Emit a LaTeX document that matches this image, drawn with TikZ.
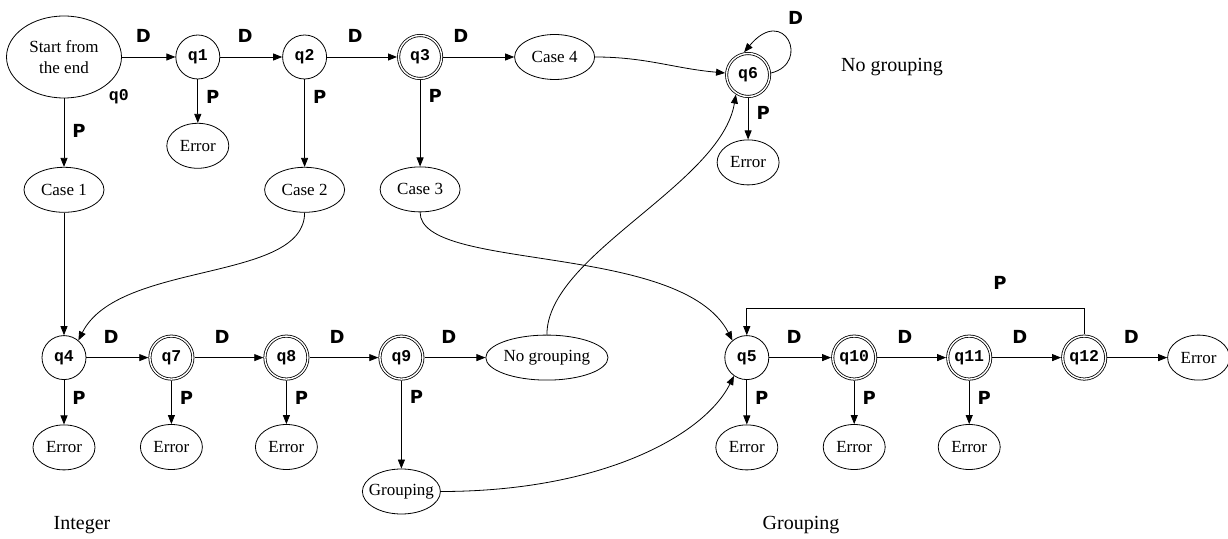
\documentclass[tikz,border=0pt]{standalone}
\usepackage{fontspec}
\setmainfont{Liberation Serif}
\newfontfamily\statefont{Liberation Mono}
\newfontfamily\edgefont{DejaVu Sans}
\usepackage{tikz}
\usetikzlibrary{arrows.meta, positioning, shapes.geometric}

\begin{document}
\begin{tikzpicture}[
    x=1pt, y=1pt,
    every node/.style={font=\fontsize{17}{21}\selectfont},
    qstate/.style={circle, draw=black, fill=white, minimum size=44pt, inner sep=0pt,
                   line width=0.8pt, font=\statefont\bfseries\fontsize{16.5}{16}\selectfont},
    qaccept/.style={qstate, double, double distance=1.4pt, minimum size=43pt, outer sep=1.6pt},
    oval/.style={ellipse, draw=black, fill=white, inner sep=0pt, minimum height=45pt, line width=0.8pt},
    errbox/.style={oval, minimum width=62pt},
    casebox/.style={oval, minimum width=80pt},
    lbl/.style={font=\edgefont\bfseries\fontsize{18}{18}\selectfont, inner sep=0pt},
    dlbl/.style={lbl, above=14pt, pos=0.4},
    plbl/.style={lbl, right=8pt, pos=0.4},
    caption/.style={font=\fontsize{20}{22}\selectfont, inner sep=0pt},
    arr/.style={-{Triangle[length=9pt, width=7pt]}, line width=0.8pt, color=black},
]
\useasboundingbox (0,0) rectangle (1228,538);

% top row
\node[oval, minimum width=115pt, minimum height=82pt, align=center,
      label={[font=\statefont\bfseries\fontsize{16.5}{16}\selectfont]-35:q0}] (q0) at (64,481) {Start from\\the end};
\node[qstate, right=53.5pt of q0] (q1) {q1};
\node[qstate, right=62pt of q1] (q2) {q2};
\node[qaccept, right=70pt of q2] (q3) {q3};
\node[casebox, right=71pt of q3] (c4) {Case 4};
\node[qaccept, right=130pt of c4, yshift=-18pt] (q6) {q6};

\node[casebox, below=68.5pt of q0] (c1) {Case 1};
\node[errbox, below=43.5pt of q1] (e1) {Error};
\node[casebox, below=87.5pt of q2] (c2) {Case 2};
\node[casebox, below=86.4pt of q3] (c3) {Case 3};
\node[errbox, below=41.4pt of q6] (e6) {Error};

% integer part
\node[qstate, below=122.5pt of c1] (q4) {q4};
\node[qaccept, right=61.9pt of q4] (q7) {q7};
\node[qaccept, right=68.8pt of q7] (q8) {q8};
\node[qaccept, right=68.8pt of q8] (q9) {q9};
\node[oval, minimum width=122pt, right=60.9pt of q9] (ng) {No grouping};
\node[oval, minimum width=78pt, below=87.9pt of q9] (grp) {\makebox[0pt]{Grouping}};
\node[errbox, below=44.5pt of q4] (e4) {Error};
\node[errbox, below=43.4pt of q7] (e7) {Error};
\node[errbox, below=43.4pt of q8] (e8) {Error};

% grouping part
\node[qstate, right=116pt of ng] (q5) {q5};
\node[qaccept, right=61.9pt of q5] (q10) {q10};
\node[qaccept, right=68.8pt of q10] (q11) {q11};
\node[qaccept, right=68.8pt of q11] (q12) {q12};
\node[errbox, right=59.9pt of q12] (e12) {Error};
\node[errbox, below=44.5pt of q5] (e5) {Error};
\node[errbox, below=43.4pt of q10] (e10) {Error};
\node[errbox, below=43.4pt of q11] (e11) {Error};

\node[caption] (capng) at (892,471) {No grouping};
\node[caption] (capint) at (82,13) {Integer};
\node[caption] (capgrp) at (801,13) {Grouping};

% top transitions
\draw[arr] (q0) -- node[dlbl] {D} (q1);
\draw[arr] (q1) -- node[dlbl] {D} (q2);
\draw[arr] (q2) -- node[dlbl] {D} (q3);
\draw[arr] (q3) -- node[dlbl, pos=0.25] {D} (c4);
\draw[arr] (c4) to[out=0, in=175] (q6);
\draw[arr] (q6.5) .. controls +(40,10) and +(40,48) .. (q6.100)
    node[lbl, pos=0.5, above=16pt, xshift=8pt] {D};

\draw[arr] (q0) -- node[plbl, pos=0.48] {P} (c1);
\draw[arr] (q1) -- node[plbl] {P} (e1);
\draw[arr] (q2) -- node[plbl, pos=0.2] {P} (c2);
\draw[arr] (q3) -- node[plbl, pos=0.18] {P} (c3);
\draw[arr] (q6) -- node[plbl, pos=0.36] {P} (e6);

% cases into the lower rows
\draw[arr] (c1) -- (q4);
\draw[arr] (c2.south) .. controls +(0,-70) and +(40,80) .. (q4.50);
\draw[arr] (c3.south) .. controls +(0,-60) and +(-51,99) .. (q5.130);
\draw[arr] (ng.north) .. controls +(0,80) and +(-15,-90) .. (q6.238);
\draw[arr] (grp.east) .. controls +(160,0) and +(-30,-60) .. (q5.235);

% integer row
\draw[arr] (q4) -- node[dlbl] {D} (q7);
\draw[arr] (q7) -- node[dlbl] {D} (q8);
\draw[arr] (q8) -- node[dlbl] {D} (q9);
\draw[arr] (q9) -- node[dlbl] {D} (ng);
\draw[arr] (q4) -- node[plbl] {P} (e4);
\draw[arr] (q7) -- node[plbl] {P} (e7);
\draw[arr] (q8) -- node[plbl] {P} (e8);
\draw[arr] (q9) -- node[plbl, pos=0.19] {P} (grp);

% grouping row
\draw[arr] (q5) -- node[dlbl] {D} (q10);
\draw[arr] (q10) -- node[dlbl] {D} (q11);
\draw[arr] (q11) -- node[dlbl] {D} (q12);
\draw[arr] (q12) -- node[dlbl] {D} (e12);
\draw[arr] (q5) -- node[plbl] {P} (e5);
\draw[arr] (q10) -- node[plbl] {P} (e10);
\draw[arr] (q11) -- node[plbl] {P} (e11);
\draw[arr] (q12.north) -- ++(0,26) -| node[lbl, above=19pt, pos=0.125] {P} (q5.north);

\end{tikzpicture}
\end{document}
